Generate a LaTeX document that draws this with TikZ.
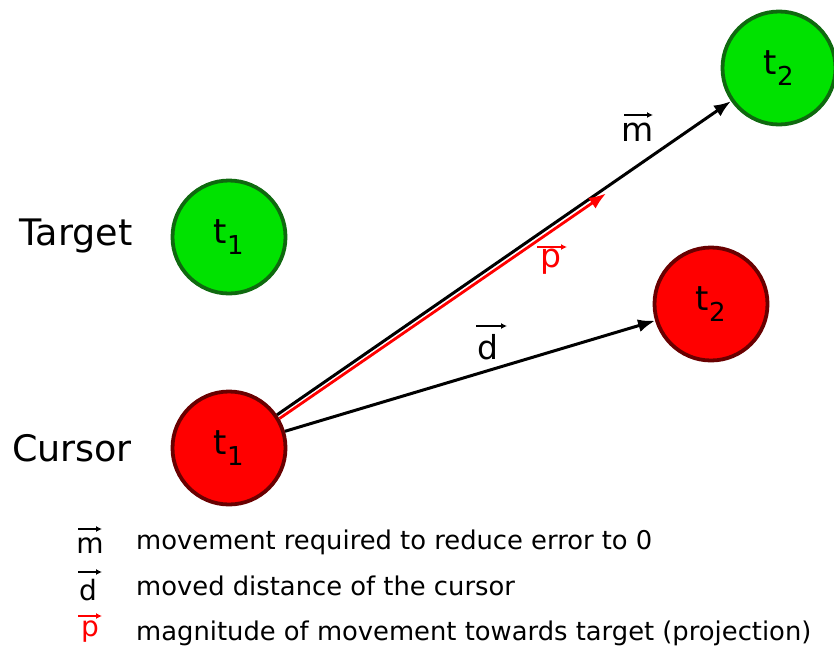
\documentclass[tikz,border=0pt]{standalone}
\usepackage{fontspec}
\setmainfont{DejaVu Sans}
\usetikzlibrary{arrows.meta}
\definecolor{gfill}{RGB}{0,226,0}
\definecolor{gdraw}{RGB}{15,105,15}
\definecolor{rfill}{RGB}{255,0,0}
\definecolor{rdraw}{RGB}{105,0,0}
\begin{document}
\begin{tikzpicture}[x=1pt,y=-1pt,
  tgt/.style={circle,fill=gfill,draw=gdraw,line width=3.8pt,minimum size=113pt,inner sep=0pt,font=\fontsize{34}{40}\selectfont},
  cur/.style={circle,fill=rfill,draw=rdraw,line width=3.8pt,minimum size=113pt,inner sep=0pt,font=\fontsize{34}{40}\selectfont},
  vecarrow/.style={line width=3pt,-{Latex[length=17pt,width=13pt]}},
  lbl/.style={inner sep=0pt,font=\fontsize{33}{40}\selectfont},
  leg/.style={inner sep=0pt,anchor=base west,font=\fontsize{25.8}{30}\selectfont},
  legsym/.style={inner sep=0pt,anchor=base,font=\fontsize{28}{32}\selectfont},
  small/.style={line width=1.3pt,-{Latex[length=6pt,width=6pt]}},
  side/.style={inner sep=0pt,font=\fontsize{36.5}{42}\selectfont}]
\useasboundingbox (0,0) rectangle (834,648);
% circles
\node[tgt] (g1) at (229,237) {\raisebox{-5pt}{t$_{\fontsize{26}{30}\selectfont\textrm{1}}$}};
\node[tgt] (g2) at (779,68) {\raisebox{-5pt}{t$_{\fontsize{26}{30}\selectfont\textrm{2}}$}};
\node[cur] (c1) at (229,448) {\raisebox{-5pt}{t$_{\fontsize{26}{30}\selectfont\textrm{1}}$}};
\node[cur] (c2) at (711,304) {\raisebox{-5pt}{t$_{\fontsize{26}{30}\selectfont\textrm{2}}$}};
% side labels
\node[side] (tl) at (76,236) {Target};
\node[side] (cl) at (72,448) {Cursor};
% vectors
\draw[vecarrow] (c1) -- (g2);
\draw[vecarrow] (c1) -- (c2);
\coordinate (ps) at (279.5,418.5);
\coordinate (pe) at (606,193.5);
\draw[vecarrow,red,line width=2.8pt] (ps) -- (pe);
% vector labels
\node[lbl,anchor=base] (ml) at (638,141) {m};
\draw[small] ([xshift=-14pt,yshift=26pt]ml.base) -- ([xshift=15pt,yshift=26pt]ml.base);
\node[lbl,anchor=base,red] (pl) at (551,267) {p};
\draw[small,red] ([xshift=-14pt,yshift=20pt]pl.base) -- ([xshift=16pt,yshift=20pt]pl.base);
\node[lbl,anchor=base] (dl) at (488,359) {d};
\draw[small] ([xshift=-12pt,yshift=33pt]dl.base) -- ([xshift=19pt,yshift=33pt]dl.base);
% legend
\node[legsym] (lm) at (90,553) {m};
\draw[small] ([xshift=-12pt,yshift=24pt]lm.base) -- ([xshift=12pt,yshift=24pt]lm.base);
\node[leg] (lmt) at (136,549) {movement required to reduce error to 0};
\node[legsym] (ld) at (88,600) {d};
\draw[small] ([xshift=-10pt,yshift=28pt]ld.base) -- ([xshift=14pt,yshift=28pt]ld.base);
\node[leg] (ldt) at (136,595) {moved distance of the cursor};
\node[legsym,red] (lp) at (90,636) {p};
\draw[small,red] ([xshift=-12pt,yshift=20pt]lp.base) -- ([xshift=12pt,yshift=20pt]lp.base);
\node[leg] (lpt) at (136,640) {magnitude of movement towards target (projection)};
\end{tikzpicture}
\end{document}
